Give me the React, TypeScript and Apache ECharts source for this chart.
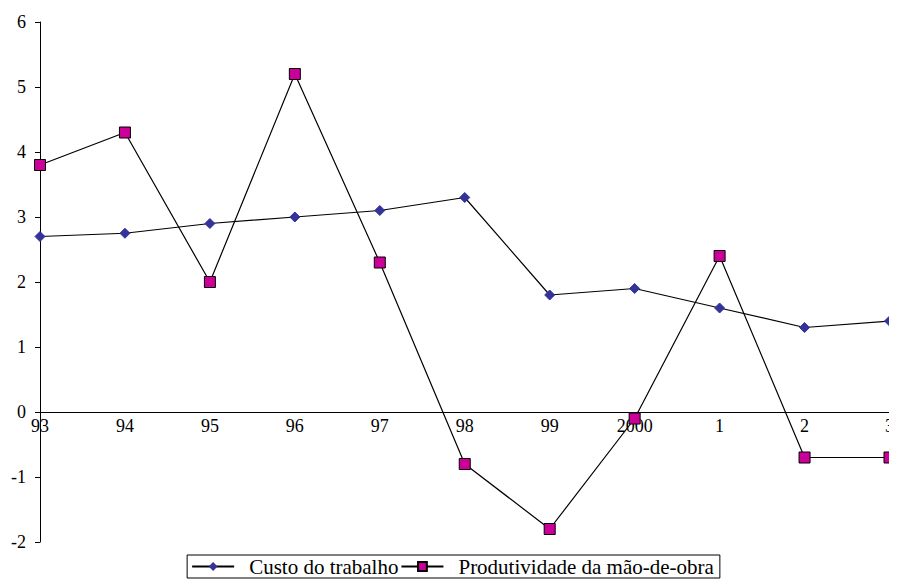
import { useEffect, useRef } from "react";
import * as echarts from "echarts";

const years = ["93", "94", "95", "96", "97", "98", "99", "2000", "1", "2", "3"];
const custo = [2.7, 2.75, 2.9, 3.0, 3.1, 3.3, 1.8, 1.9, 1.6, 1.3, 1.4];
const produtividade = [3.8, 4.3, 2.0, 5.2, 2.3, -0.8, -1.8, -0.1, 2.4, -0.7, -0.7];

export default function App() {
  const ref = useRef<HTMLDivElement>(null);

  useEffect(() => {
    if (!ref.current) return;
    const chart = echarts.init(ref.current, null, { renderer: "svg" });
    const font = "Liberation Serif";
    chart.setOption({
      animation: false,
      textStyle: { fontFamily: font },
      grid: { left: 30, right: 5, top: 14, bottom: 37 },
      legend: {
        bottom: 1,
        left: "center",
        itemGap: 2,
        borderColor: "#000",
        borderWidth: 1,
        borderRadius: 0,
        padding: [1, 6, 1, 4],
        itemWidth: 42,
        itemHeight: 11,
        textStyle: { fontFamily: font, fontSize: 21, color: "#000", padding: [0, 4, 0, 10] },
        data: ["Custo do trabalho", "Produtividade da mão-de-obra"],
      },
      xAxis: {
        type: "category",
        data: years,
        boundaryGap: false,
        offset: -130,
        axisLine: { onZero: false, lineStyle: { color: "#000" } },
        axisTick: { show: false },
        axisLabel: { color: "#000", fontSize: 18, fontFamily: font, margin: 5 },
      },
      yAxis: {
        type: "value",
        min: -2,
        max: 6,
        interval: 1,
        splitLine: { show: false },
        axisLine: { show: true, lineStyle: { color: "#000" } },
        axisTick: { show: true, length: 5, lineStyle: { color: "#000" } },
        axisLabel: { color: "#000", fontSize: 18, fontFamily: font, margin: 14 },
      },
      series: [
        {
          name: "Custo do trabalho",
          type: "line",
          data: custo,
          symbol: "diamond",
          symbolSize: 10,
          lineStyle: { color: "#000", width: 1.2 },
          itemStyle: { color: "#333399", borderColor: "#333399" },
        },
        {
          name: "Produtividade da mão-de-obra",
          type: "line",
          data: produtividade,
          symbol: "rect",
          symbolSize: 11,
          lineStyle: { color: "#000", width: 1.2 },
          itemStyle: { color: "#cc0099", borderColor: "#000", borderWidth: 1 },
        },
      ],
    });
    return () => chart.dispose();
  }, []);

  return <div ref={ref} style={{ width: 889, height: 571 }} />;
}
